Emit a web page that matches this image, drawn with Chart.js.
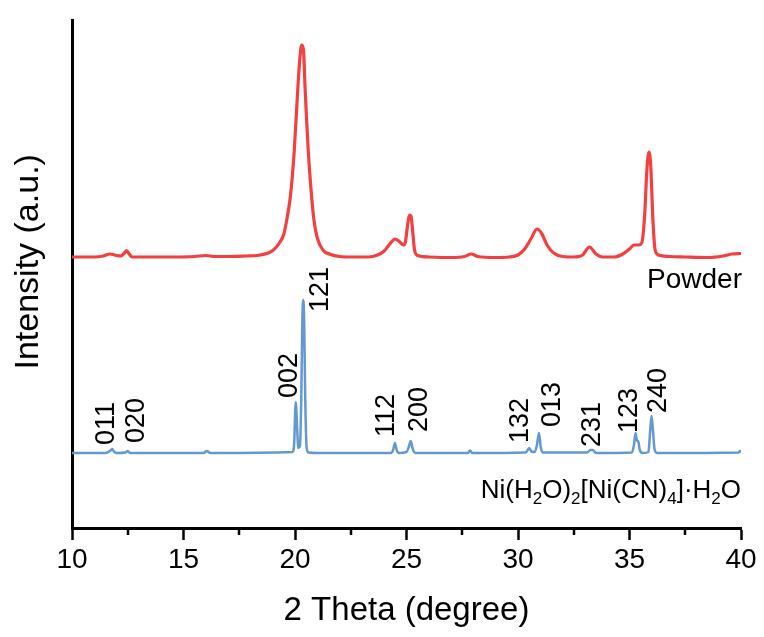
<!DOCTYPE html>
<html>
<head>
<meta charset="utf-8">
<script src="https://cdn.jsdelivr.net/npm/chart.js@4.4.1/dist/chart.umd.min.js"></script>
<style>
  html, body { margin: 0; padding: 0; background: #ffffff; }
  #xrd { display: block; }
</style>
</head>
<body>
<canvas id="xrd" width="764" height="637"></canvas>
<script>
// measured powder pattern (2θ, intensity a.u.)
const powderTheta = [
  10.0, 10.5, 11.0, 11.4, 11.7, 12.0, 12.2, 12.35, 12.45, 12.55, 12.7, 13.5, 14.5, 15.5, 16.0, 16.4,
  17.0, 17.8, 18.3, 18.8, 19.03, 19.3, 19.5, 19.63, 19.8, 19.96, 20.13, 20.22, 20.3, 20.38, 20.45,
  20.52, 20.6, 20.72, 20.85, 21.0, 21.25, 21.6, 22.0, 22.5, 23.3, 23.7, 24.0, 24.25, 24.48, 24.7,
  24.85, 24.95, 25.05, 25.13, 25.2, 25.28, 25.36, 25.5, 26.0, 27.0, 27.6, 27.9, 28.2, 29.0, 29.6,
  30.0, 30.3, 30.6, 30.85, 31.05, 31.3, 31.6, 32.0, 32.5, 32.9, 33.2, 33.5, 33.8, 34.3, 34.7, 35.0,
  35.2, 35.4, 35.55, 35.68, 35.78, 35.87, 35.95, 36.05, 36.15, 36.3, 36.8, 37.5, 38.5, 39.2, 39.6, 40.0
];
const powderIntensity = [
  271, 271, 271, 272, 274, 272.5, 272, 275, 277.5, 274.5, 271, 271, 271, 271.5, 272.5, 271.5,
  271.5, 272, 272.5, 275, 278, 285, 294, 308, 333, 375, 441, 470, 483, 478, 441,
  408, 375, 338, 308, 290, 278, 273.5, 271.5, 271, 271, 273, 277, 284, 289, 286,
  283, 286, 303, 313, 312, 296, 278, 272.5, 271, 270.5, 271.5, 274, 271.5, 270.5, 271,
  273, 279, 290, 299, 295, 283, 275, 271.5, 271, 273, 281, 274, 271, 271, 274, 279,
  283, 283, 285, 313, 358, 376, 363, 308, 278, 273, 271.5, 271, 270.5, 272, 274, 274.5
];

// reference pattern Ni(H2O)2[Ni(CN)4]·H2O
const refTheta = [
  10.0, 11.5, 11.7, 11.8, 11.9, 12.0, 12.4, 12.5, 12.6, 13.0, 15.9, 16.05, 16.2, 19.9, 19.97, 20.01,
  20.04, 20.08, 20.15, 20.22, 20.28, 20.33, 20.37, 20.41, 20.46, 20.52, 20.6, 21.0, 24.3, 24.4, 24.48,
  24.56, 24.65, 25.0, 25.1, 25.19, 25.28, 25.4, 27.75, 27.85, 27.95, 30.35, 30.45, 30.5, 30.6, 30.75,
  30.85, 30.94, 31.02, 31.1, 33.1, 33.25, 33.35, 33.5, 35.1, 35.2, 35.27, 35.33, 35.4, 35.46, 35.6,
  35.85, 35.93, 35.99, 36.05, 36.13, 36.25, 39.9, 39.95, 40.0
];
const refIntensity = [
  75, 75, 77, 79, 76, 75, 75.5, 77, 75, 75, 75, 77, 75, 76, 88, 118,
  126, 108, 80, 82, 128, 208, 228, 208, 128, 81, 75.5, 75, 75, 78, 85,
  78, 75, 76, 81, 87, 79, 75, 75, 77.5, 75, 75.5, 78.5, 80, 76.5, 76,
  83, 95, 81, 75.5, 75.5, 78, 78, 75, 75.5, 83, 95, 88, 86, 78, 75,
  76, 98, 112, 98, 78, 75, 75.5, 77, 75.5
];

// reflection indices and where their labels sit (2θ, intensity at label foot)
const hklLabels = ['011', '020', '002', '121', '112', '200', '132', '013', '231', '123', '240'];
const hklTheta = [11.43, 12.78, 19.66, 21.03, 23.99, 25.47, 30.0, 31.43, 33.23, 34.89, 36.19];
const hklFoot = [83, 85, 130, 216, 91, 96, 85, 101, 81, 95, 115];

const minorTicks = [12.5, 17.5, 22.5, 27.5, 32.5, 37.5];

const FONT = '"Liberation Sans", Arial, sans-serif';
const RED = '#f23f3f';
const BLUE = '#6399d0';

const toPoints = (xs, ys) => xs.map((x, i) => ({ x: x, y: ys[i] }));

const annotations = {
  id: 'xrdAnnotations',
  afterDraw(chart) {
    const c = chart.ctx;
    const xs = chart.scales.x;
    const ys = chart.scales.y;
    const area = chart.chartArea;

    // minor ticks
    c.save();
    c.strokeStyle = '#000';
    c.lineWidth = 2.5;
    minorTicks.forEach(v => {
      const px = Math.round(xs.getPixelForValue(v));
      c.beginPath();
      c.moveTo(px, area.bottom);
      c.lineTo(px, area.bottom + 7);
      c.stroke();
    });
    c.restore();

    // y title, sits a bit above the axis middle in the original
    c.save();
    c.fillStyle = '#000';
    c.font = '34px ' + FONT;
    c.textAlign = 'center';
    c.textBaseline = 'middle';
    c.translate(29, area.top + (area.bottom - area.top) * 0.476);
    c.rotate(-Math.PI / 2);
    c.fillText('Intensity (a.u.)', 0, 0);
    c.restore();

    // hkl labels, written upwards
    c.save();
    c.fillStyle = '#000';
    c.font = '27px ' + FONT;
    c.textAlign = 'left';
    c.textBaseline = 'alphabetic';
    hklLabels.forEach((lab, i) => {
      const px = xs.getPixelForValue(hklTheta[i]);
      const py = ys.getPixelForValue(hklFoot[i]);
      c.save();
      c.translate(px, py);
      c.rotate(-Math.PI / 2);
      c.fillText(lab, 0, 27 * 0.36);
      c.restore();
    });
    c.restore();

    // sample names
    c.save();
    c.fillStyle = '#000';
    c.font = '28px ' + FONT;
    c.textAlign = 'right';
    c.textBaseline = 'alphabetic';
    c.fillText('Powder', xs.getPixelForValue(40) + 1, ys.getPixelForValue(240));
    c.restore();

    const parts = [['Ni(H', 0], ['2', 1], ['O)', 0], ['2', 1], ['[Ni(CN)', 0], ['4', 1], [']\u00B7H', 0], ['2', 1], ['O', 0]];
    const mainFont = '26px ' + FONT;
    const subFont = '17px ' + FONT;
    c.save();
    c.fillStyle = '#000';
    c.textAlign = 'left';
    c.textBaseline = 'alphabetic';
    let total = 0;
    parts.forEach(p => {
      c.font = p[1] ? subFont : mainFont;
      total += c.measureText(p[0]).width;
    });
    let x = xs.getPixelForValue(40) - total;
    const base = ys.getPixelForValue(30);
    parts.forEach(p => {
      c.font = p[1] ? subFont : mainFont;
      c.fillText(p[0], x, p[1] ? base + 6 : base);
      x += c.measureText(p[0]).width;
    });
    c.restore();
  }
};

const chart = new Chart(document.getElementById('xrd').getContext('2d'), {
  type: 'line',
  data: {
    datasets: [
      {
        label: 'Powder',
        data: toPoints(powderTheta, powderIntensity),
        borderColor: RED,
        borderWidth: 3.2,
        pointRadius: 0,
        cubicInterpolationMode: 'monotone',
        fill: false
      },
      {
        label: 'Ni(H2O)2[Ni(CN)4]·H2O',
        data: toPoints(refTheta, refIntensity),
        borderColor: BLUE,
        borderWidth: 2.5,
        pointRadius: 0,
        cubicInterpolationMode: 'monotone',
        fill: false
      }
    ]
  },
  options: {
    responsive: false,
    animation: false,
    devicePixelRatio: 1,
    layout: { padding: { top: 20, right: 23, left: 0, bottom: 0 } },
    plugins: {
      legend: { display: false },
      tooltip: { enabled: false }
    },
    scales: {
      x: {
        type: 'linear',
        min: 10,
        max: 40,
        ticks: {
          stepSize: 5,
          color: '#000',
          font: { family: FONT, size: 28 },
          padding: 3,
          maxRotation: 0,
          autoSkip: false
        },
        grid: {
          display: true,
          drawOnChartArea: false,
          drawTicks: true,
          tickLength: 12,
          tickWidth: 2.5,
          tickColor: '#000'
        },
        border: { display: true, width: 3, color: '#000' },
        title: {
          display: true,
          text: '2 Theta (degree)',
          color: '#000',
          font: { family: FONT, size: 33 },
          padding: { top: 0, bottom: 6 }
        },
        afterFit: s => { s.height = 109; }
      },
      y: {
        min: 0,
        max: 508,
        ticks: { display: false },
        grid: { display: false },
        border: { display: true, width: 3, color: '#000' },
        title: { display: false },
        afterFit: s => { s.width = 72; }
      }
    }
  },
  plugins: [annotations]
});
</script>
</body>
</html>
